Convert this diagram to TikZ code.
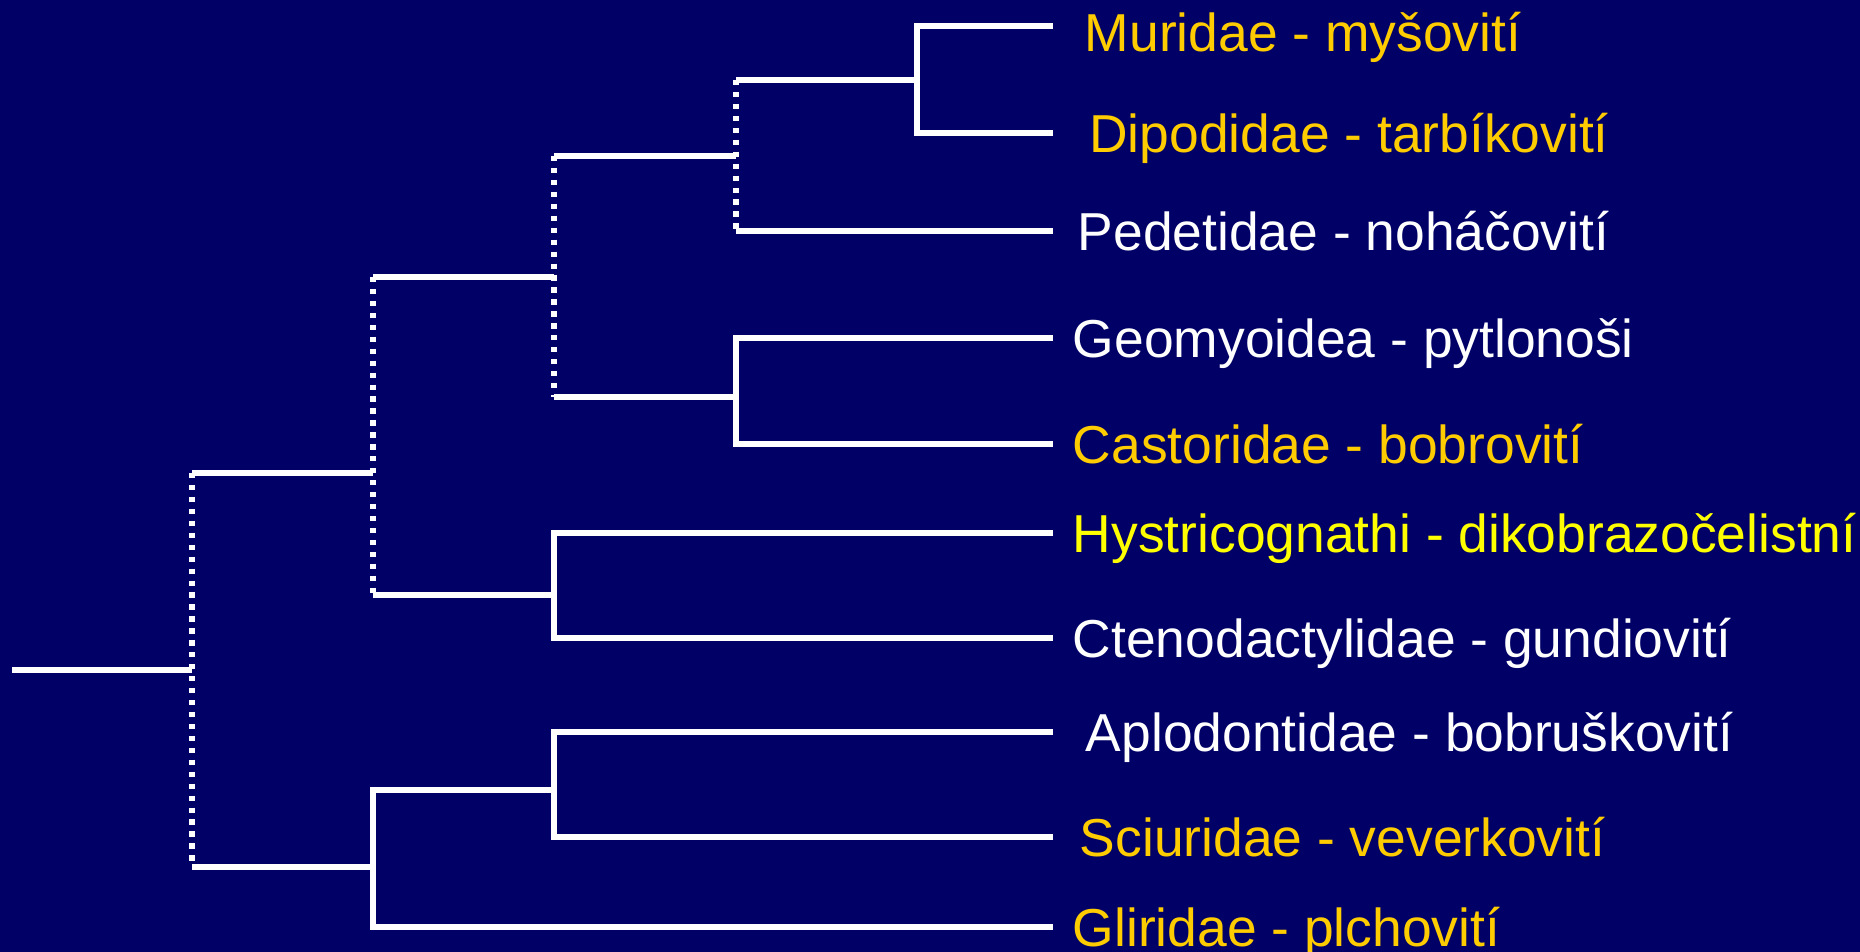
\documentclass[tikz,border=0pt]{standalone}
\usepackage{fontspec}
\setmainfont{Liberation Sans}
\usepackage{xcolor}
\definecolor{slidebg}{RGB}{0,0,102}
\definecolor{gold}{RGB}{255,204,0}
\definecolor{brightyellow}{RGB}{255,255,0}

\begin{document}
\begin{tikzpicture}[x=0.02cm, y=-0.02cm,
  branch/.style={draw=white, line width=3pt},
  dotbranch/.style={draw=white, line width=3pt, dash pattern=on 3pt off 3.8pt},
  taxon/.style={anchor=west, inner xsep=0.39cm, inner ysep=0pt, text height=21.8pt, text depth=0pt, font=\fontsize{30.4}{36}\selectfont, text=white}
]
\useasboundingbox (0,0) rectangle (1860,952);
\fill[slidebg] (0,0) rectangle (1860,952);

% inner nodes of the tree
\coordinate (root) at (12,670);
\coordinate (n1) at (192,670);
\coordinate (n2) at (373,473);
\coordinate (n3) at (373,867);
\coordinate (n4) at (554,277);
\coordinate (n5) at (554,595);
\coordinate (n6) at (554,790);
\coordinate (n7) at (736,156);
\coordinate (n8) at (736,397);
\coordinate (n9) at (917,80);

% taxa
\node[taxon, text=gold, inner xsep=0.63cm, text height=28.6pt] (murid) at (1053,26) {Muridae - myšovití};
\node[taxon, text=gold, inner xsep=0.72cm] (dipod) at (1053,133) {Dipodidae - tarbíkovití};
\node[taxon, inner xsep=0.49cm] (pedet) at (1053,231) {Pedetidae - noháčovití};
\node[taxon] (geomy) at (1053,338) {Geomyoidea - pytlonoši};
\node[taxon, text=gold] (castor) at (1053,444) {Castoridae - bobrovití};
\node[taxon, text=brightyellow] (hystr) at (1053,533) {Hystricognathi - dikobrazočelistní};
\node[taxon] (cteno) at (1053,638) {Ctenodactylidae - gundiovití};
\node[taxon, inner xsep=0.65cm] (aplod) at (1053,732) {Aplodontidae - bobruškovití};
\node[taxon, text=gold, inner xsep=0.53cm] (sciur) at (1053,837) {Sciuridae - veverkovití};
\node[taxon, text=gold] (glir) at (1053,927) {Gliridae - plchovití};

% uncertain splits
\draw[dotbranch] (n1 |- n2) -- (n1 |- n3);
\draw[dotbranch] (n2 |- n4) -- (n2 |- n5);
\draw[dotbranch] (n4 |- n7) -- (n4 |- n8);
\draw[dotbranch] (n7 |- n9) -- (n7 |- pedet.west);

\draw[branch] (root) -- (n1);
\draw[branch] (n1 |- n2) -- (n2);
\draw[branch] (n1 |- n3) -- (n3);
\draw[branch] (n2 |- n4) -- (n4);
\draw[branch] (n2 |- n5) -- (n5);
\draw[branch] (n4 |- n7) -- (n7);
\draw[branch] (n4 |- n8) -- (n8);
\draw[branch] (n7 |- n9) -- (n9);
\draw[branch] (n7 |- pedet.west) -- (pedet.west);

\draw[branch] (murid.west) -| (n9) |- (dipod.west);
\draw[branch] (geomy.west) -| (n8) |- (castor.west);
\draw[branch] (hystr.west) -| (n5) |- (cteno.west);
\draw[branch] (aplod.west) -| (n6) |- (sciur.west);
\draw[branch] (n6) -| (n3) |- (glir.west);
\end{tikzpicture}
\end{document}
